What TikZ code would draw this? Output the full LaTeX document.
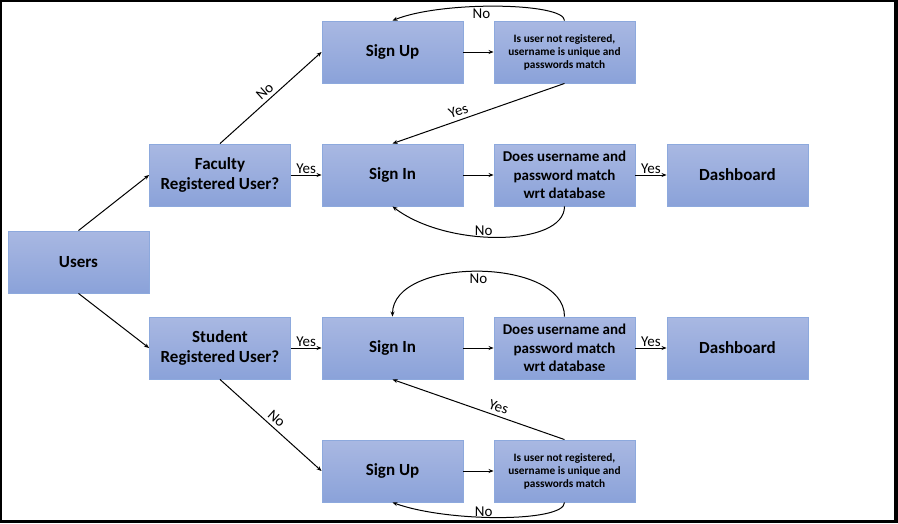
\documentclass[tikz,border=0pt]{standalone}
\usepackage{fontspec}
\setmainfont{Carlito}
\usetikzlibrary{arrows.meta}
\definecolor{boxtop}{HTML}{A9B8E2}
\definecolor{boxbot}{HTML}{8AA2D9}
\definecolor{boxline}{HTML}{8DA9DD}
\begin{document}
\begin{tikzpicture}[x=1pt,y=-1pt,
  box/.style={draw=boxline, line width=0.9pt, top color=boxtop, bottom color=boxbot,
    minimum width=141pt, minimum height=62pt, inner sep=0pt, align=center,
    font=\bfseries\fontsize{17}{20}\selectfont},
  midbox/.style={box, font=\bfseries\fontsize{15}{18.3}\selectfont},
  smallbox/.style={box, font=\bfseries\fontsize{11.3}{13}\selectfont},
  arr/.style={line width=1pt, -{Stealth[length=5pt,width=4pt]}},
  lbl/.style={font=\fontsize{15}{17}\selectfont, inner sep=1.5pt},
  slbl/.style={lbl, sloped, above, inner sep=3.5pt}]
\fill[black] (0,0) rectangle (898,523);
\fill[white] (2,2) rectangle (894,520);
\useasboundingbox (0,0) rectangle (898,523);
% nodes
\node[box] (users) at (78.5,262) {Users};
\node[box] (fac) at (220,175) {Faculty\\Registered User?};
\node[box] (su1) at (392.5,52) {Sign Up};
\node[smallbox] (ck1) at (564.5,52) {Is user not registered,\\username is unique and\\passwords match};
\node[box] (si1) at (392.5,175) {Sign In};
\node[midbox] (db1) at (564.5,175) {Does username and\\password match\\wrt database};
\node[box] (dash1) at (737.5,175) {Dashboard};
\node[box] (stu) at (220,348) {Student\\Registered User?};
\node[box] (si2) at (392.5,348) {Sign In};
\node[midbox] (db2) at (564.5,348) {Does username and\\password match\\wrt database};
\node[box] (dash2) at (737.5,348) {Dashboard};
\node[box] (su2) at (392.5,471) {Sign Up};
\node[smallbox] (ck2) at (564.5,471) {Is user not registered,\\username is unique and\\passwords match};
% connectors
\draw[arr] (users.north) -- (fac.west);
\draw[arr] (users.south) -- (stu.west);
\draw[arr] (fac.north) -- node[slbl, midway] (l1) {No} (su1.west);
\draw[arr] (fac.east) -- node[lbl, midway, above, inner sep=0.5pt] (l2) {Yes} (si1.west);
\draw[arr] (su1.east) -- (ck1.west);
\draw[arr] (ck1.south) -- node[slbl, pos=0.6] (l3) {Yes} (si1.north);
\draw[arr] (ck1.north) .. controls +(0,-18) and +(50,-20) .. node[lbl, pos=0.57, below, inner sep=2pt] (l4) {No} (su1.north);
\draw[arr] (si1.east) -- (db1.west);
\draw[arr] (db1.south) .. controls +(0,40) and +(55,42) .. node[lbl, pos=0.57, above, inner sep=0.5pt] (l5) {No} (si1.south);
\draw[arr] (db1.east) -- node[lbl, midway, above, inner sep=0.5pt] (l6) {Yes} (dash1.west);
\draw[arr] (stu.east) -- node[lbl, midway, above, inner sep=0.5pt] (l7) {Yes} (si2.west);
\draw[arr] (stu.south) -- node[slbl, midway] (l8) {No} (su2.west);
\draw[arr] (si2.east) -- (db2.west);
\draw[arr] (su2.east) -- (ck2.west);
\draw[arr] (ck2.north) -- node[slbl, pos=0.4] (l9) {Yes} (si2.south);
\draw[arr] (ck2.south) .. controls +(0,20) and +(55,20) .. node[lbl, pos=0.57, above, inner sep=0.5pt] (l10) {No} (su2.south);
\draw[arr] (db2.north) .. controls +(0,-60) and +(0,-60) .. node[lbl, pos=0.5, below, inner sep=2pt] (l11) {No} (si2.north);
\draw[arr] (db2.east) -- node[lbl, midway, above, inner sep=0.5pt] (l12) {Yes} (dash2.west);
\end{tikzpicture}
\end{document}
